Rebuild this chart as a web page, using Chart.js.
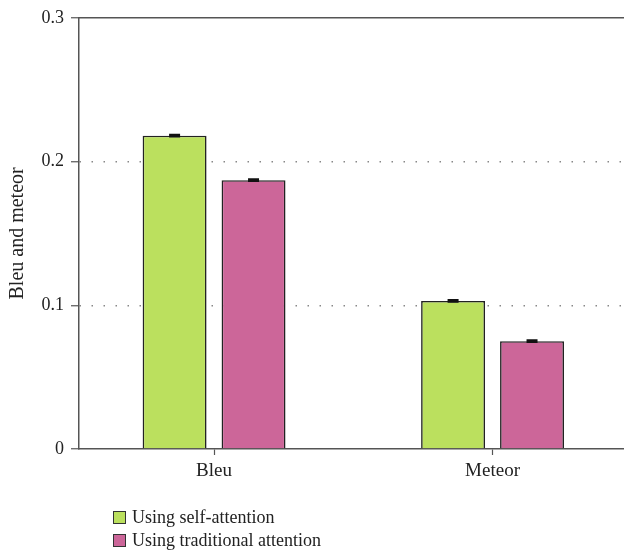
<!DOCTYPE html>
<html>
<head>
<meta charset="utf-8">
<script src="https://cdn.jsdelivr.net/npm/chart.js@4/dist/chart.umd.min.js"></script>
<style>
  html, body { margin: 0; padding: 0; background: #fff; overflow: hidden; width: 624px; height: 559px; }
  #wrap { position: relative; width: 624px; height: 559px; overflow: hidden; }
  canvas { position: absolute; left: 0; top: 0; }
  #legend { position: absolute; left: 113px; top: 506px; font-family: "Liberation Serif", "DejaVu Serif", serif; font-size: 18px; color: #222; }
  .item { height: 23px; display: flex; align-items: center; }
  .swatch { width: 11px; height: 11px; border: 1px solid #333; margin-right: 6px; box-sizing: content-box; }
</style>
</head>
<body>
<div id="wrap">
  <canvas id="c" width="624" height="559"></canvas>
  <div id="legend"></div>
</div>
<script>
// Categories and series
const categories = ["Bleu", "Meteor"];
const seriesNames = ["Using self-attention", "Using traditional attention"];
const selfAttention = [0.218, 0.103];
const traditionalAttention = [0.187, 0.075];
const selfAttentionErr = [0.0006, 0.0006];
const traditionalAttentionErr = [0.0006, 0.0006];
const yTicks = [0, 0.1, 0.2, 0.3];

const colors = ["#bbe05e", "#cc6699"];
const serif = "'Liberation Serif', 'DejaVu Serif', serif";

// Category positions on a numeric x axis (0, 1, ...)
const points = vals => categories.map((c, i) => ({ x: i, y: vals[i] }));

// Small error-bar caps on top of each bar
const errorBars = {
  id: 'errorBars',
  afterDatasetsDraw(chart) {
    const ctx = chart.ctx;
    const y = chart.scales.y;
    ctx.save();
    ctx.strokeStyle = '#111';
    ctx.lineWidth = 2;
    chart.data.datasets.forEach((ds, di) => {
      const meta = chart.getDatasetMeta(di);
      meta.data.forEach((bar, i) => {
        const v = ds.data[i].y, e = ds.errors[i];
        const yt = y.getPixelForValue(v + e), yb = y.getPixelForValue(v - e);
        const half = 5.5;
        ctx.beginPath();
        ctx.moveTo(bar.x, yt); ctx.lineTo(bar.x, yb);
        ctx.moveTo(bar.x - half, yt); ctx.lineTo(bar.x + half, yt);
        ctx.moveTo(bar.x - half, yb); ctx.lineTo(bar.x + half, yb);
        ctx.stroke();
      });
    });
    ctx.restore();
  }
};

// Solid line along the top of the plot area
const topBorder = {
  id: 'topBorder',
  afterDraw(chart) {
    const { ctx, chartArea } = chart;
    ctx.save();
    ctx.setLineDash([]);
    ctx.strokeStyle = '#555';
    ctx.lineWidth = 1.5;
    ctx.beginPath();
    ctx.moveTo(chartArea.left, chartArea.top);
    ctx.lineTo(chartArea.right, chartArea.top);
    ctx.stroke();
    ctx.restore();
  }
};

const chart = new Chart(document.getElementById('c'), {
  type: 'bar',
  data: {
    datasets: [
      { label: seriesNames[0], data: points(selfAttention), errors: selfAttentionErr,
        backgroundColor: colors[0], borderColor: '#222', borderWidth: 1.6,
        categoryPercentage: 0.567, barPercentage: 0.81 },
      { label: seriesNames[1], data: points(traditionalAttention), errors: traditionalAttentionErr,
        backgroundColor: colors[1], borderColor: '#222', borderWidth: 1.6,
        categoryPercentage: 0.567, barPercentage: 0.81 }
    ]
  },
  options: {
    responsive: false,
    animation: false,
    devicePixelRatio: 1,
    layout: { padding: { top: 16, right: 0, bottom: 0, left: 0 } },
    plugins: { legend: { display: false }, tooltip: { enabled: false } },
    scales: {
      x: {
        type: 'linear',
        offset: false,
        min: -0.485, max: 1.472,
        afterFit(s) { s.height = 110; },
        afterBuildTicks(s) { s.ticks = categories.map((c, i) => ({ value: i })); },
        grid: { display: true, offset: false, drawOnChartArea: false, drawTicks: true, tickLength: 6,
                tickColor: '#555', tickWidth: 1.2 },
        border: { color: '#555', width: 1.5 },
        ticks: { color: '#222', font: { family: serif, size: 19 }, padding: 5,
                 autoSkip: false, maxRotation: 0,
                 callback: v => categories[v] }
      },
      y: {
        min: 0, max: 0.3,
        afterFit(s) { s.width = 79; },
        afterBuildTicks(s) { s.ticks = yTicks.map(v => ({ value: v })); },
        grid: {
          color: c => (c.tick && (c.tick.value === 0.1 || c.tick.value === 0.2)) ? '#888' : 'rgba(0,0,0,0)',
          lineWidth: 1.5,
          drawTicks: true, tickLength: 8, tickColor: '#555', tickWidth: 1.2, tickBorderDash: []
        },
        border: { color: '#555', width: 1.5, dash: [1.5, 10.5] },
        ticks: { color: '#222', font: { family: serif, size: 18 }, padding: 7,
                 callback: v => (v === 0 ? '0' : String(v)) },
        title: { display: true, text: 'Bleu and meteor', color: '#222',
                 font: { family: serif, size: 20 }, padding: { top: 6, bottom: 0 } }
      }
    }
  },
  plugins: [errorBars, topBorder]
});

// Legend listing each series with its colour
const legend = document.getElementById('legend');
chart.data.datasets.forEach(ds => {
  const row = document.createElement('div');
  row.className = 'item';
  const sw = document.createElement('span');
  sw.className = 'swatch';
  sw.style.background = ds.backgroundColor;
  const tx = document.createElement('span');
  tx.textContent = ds.label;
  row.appendChild(sw); row.appendChild(tx);
  legend.appendChild(row);
});
</script>
</body>
</html>
